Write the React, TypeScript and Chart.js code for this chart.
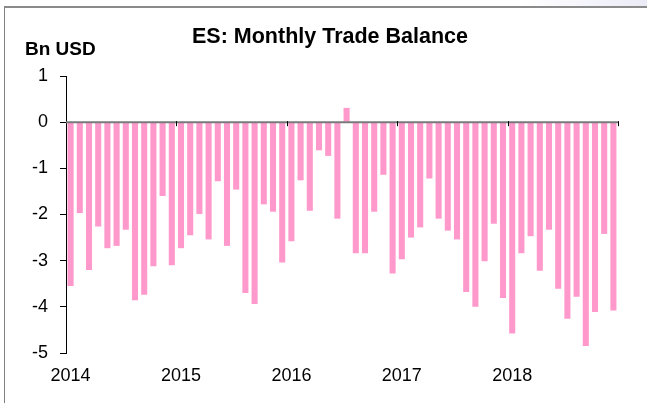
import React, { useEffect, useRef } from 'react';
import { Chart, registerables } from 'chart.js';

Chart.register(...registerables);

const years = ['2014', '2015', '2016', '2017', '2018'];
const months = ['01', '02', '03', '04', '05', '06', '07', '08', '09', '10', '11', '12'];

const balance2014 = [-3.55, -1.97, -3.2, -2.26, -2.73, -2.68, -2.33, -3.86, -3.74, -3.12, -1.6, -3.1];
const balance2015 = [-2.73, -2.45, -1.99, -2.54, -1.28, -2.68, -1.46, -3.7, -3.94, -1.78, -1.94, -3.04];
const balance2016 = [-2.58, -1.26, -1.92, -0.61, -0.73, -2.09, 0.31, -2.84, -2.84, -1.94, -1.14, -3.28];
const balance2017 = [-2.97, -2.5, -2.28, -1.22, -2.09, -2.35, -2.54, -3.68, -4.0, -3.01, -2.2, -3.81];
const balance2018 = [-4.58, -2.84, -2.47, -3.22, -2.33, -3.61, -4.26, -3.78, -4.85, -4.11, -2.42, -4.08];

const yTicks = [-5, -4, -3, -2, -1, 0, 1];

const titleText = 'ES: Monthly Trade Balance';
const unitText = 'Bn USD';

const FONT = '"Liberation Sans", Arial, sans-serif';

export default function App() {
  const canvasRef = useRef<HTMLCanvasElement | null>(null);

  useEffect(() => {
    const canvas = canvasRef.current;
    if (!canvas) return;
    const labels: string[] = [];
    years.forEach((y) => months.forEach((m) => labels.push(`${y}-${m}`)));
    const values = [...balance2014, ...balance2015, ...balance2016, ...balance2017, ...balance2018];

    const overlay = {
      id: 'overlay',
      afterDatasetsDraw(chart: any) {
        const ctx = chart.ctx;
        const xs = chart.scales.x;
        const ys = chart.scales.y;
        const area = chart.chartArea;
        const y0 = ys.getPixelForValue(0);
        ctx.save();
        ctx.strokeStyle = '#7a7a7a';
        ctx.lineWidth = 2;
        ctx.beginPath();
        ctx.moveTo(area.left, y0);
        ctx.lineTo(area.right, y0);
        ctx.stroke();
        const n = labels.length;
        const slot = (area.right - area.left) / n;
        ctx.strokeStyle = '#000';
        ctx.lineWidth = 1;
        for (let i = 12; i <= n; i += 12) {
          const x = Math.round(xs.getPixelForValue(i - 1) + slot / 2) + 0.5;
          ctx.beginPath();
          ctx.moveTo(x, y0 - 1);
          ctx.lineTo(x, y0 + 4);
          ctx.stroke();
        }
        ctx.restore();
      },
      afterDraw(chart: any) {
        const ctx = chart.ctx;
        ctx.save();
        ctx.fillStyle = '#000';
        ctx.textBaseline = 'middle';
        ctx.textAlign = 'center';
        ctx.font = `bold 21.5px ${FONT}`;
        ctx.fillText(titleText, 330, 37);
        ctx.textAlign = 'left';
        ctx.font = `bold 19px ${FONT}`;
        ctx.fillText(unitText, 25, 50);
        ctx.restore();
      },
    };

    const chart = new Chart(canvas, {
      type: 'bar',
      data: {
        labels,
        datasets: [
          {
            data: values,
            backgroundColor: '#ff99cc',
            borderWidth: 0,
            barPercentage: 0.66,
            categoryPercentage: 1,
          },
        ],
      },
      options: {
        responsive: false,
        animation: false,
        layout: { padding: { top: 76, right: 29, bottom: 0, left: 0 } },
        plugins: {
          legend: { display: false },
          title: { display: false },
          tooltip: { enabled: false },
        },
        scales: {
          x: {
            type: 'category',
            offset: true,
            grid: { display: false },
            border: { display: false },
            ticks: {
              autoSkip: false,
              maxRotation: 0,
              minRotation: 0,
              padding: 4,
              color: '#000',
              font: { family: FONT, size: 18 },
              callback: (_v: any, i: number) => (i % 12 === 0 ? labels[i].slice(0, 4) : ''),
            },
            afterFit: (s: any) => {
              s.height = 50;
            },
          },
          y: {
            min: yTicks[0],
            max: yTicks[yTicks.length - 1],
            afterBuildTicks: (s: any) => {
              s.ticks = yTicks.map((v) => ({ value: v }));
            },
            grid: {
              display: true,
              drawOnChartArea: false,
              drawTicks: true,
              tickLength: 6,
              color: '#000',
              lineWidth: 1,
            },
            border: { display: true, color: '#000', width: 1 },
            ticks: {
              padding: 12,
              color: '#000',
              font: { family: FONT, size: 18 },
            },
            afterFit: (s: any) => {
              s.width = 66;
            },
          },
        },
      },
      plugins: [overlay],
    });
    return () => chart.destroy();
  }, []);

  return (
    <div style={{ position: 'fixed', left: 0, top: 0, width: 647, height: 403, background: '#fff', overflow: 'hidden' }}>
      <div
        style={{
          position: 'absolute',
          left: 520,
          top: 0,
          width: 127,
          height: 6,
          background: 'linear-gradient(to right, #ffffff, #ebebf7)',
        }}
      />
      <div
        style={{
          position: 'absolute',
          left: 4,
          top: 6,
          right: -2,
          bottom: -2,
          borderLeft: '1px solid #808080',
          borderTop: '2px solid #8a8a8a',
        }}
      />
      <canvas ref={canvasRef} width={647} height={403} style={{ position: 'absolute', left: 0, top: 0 }} />
    </div>
  );
}
